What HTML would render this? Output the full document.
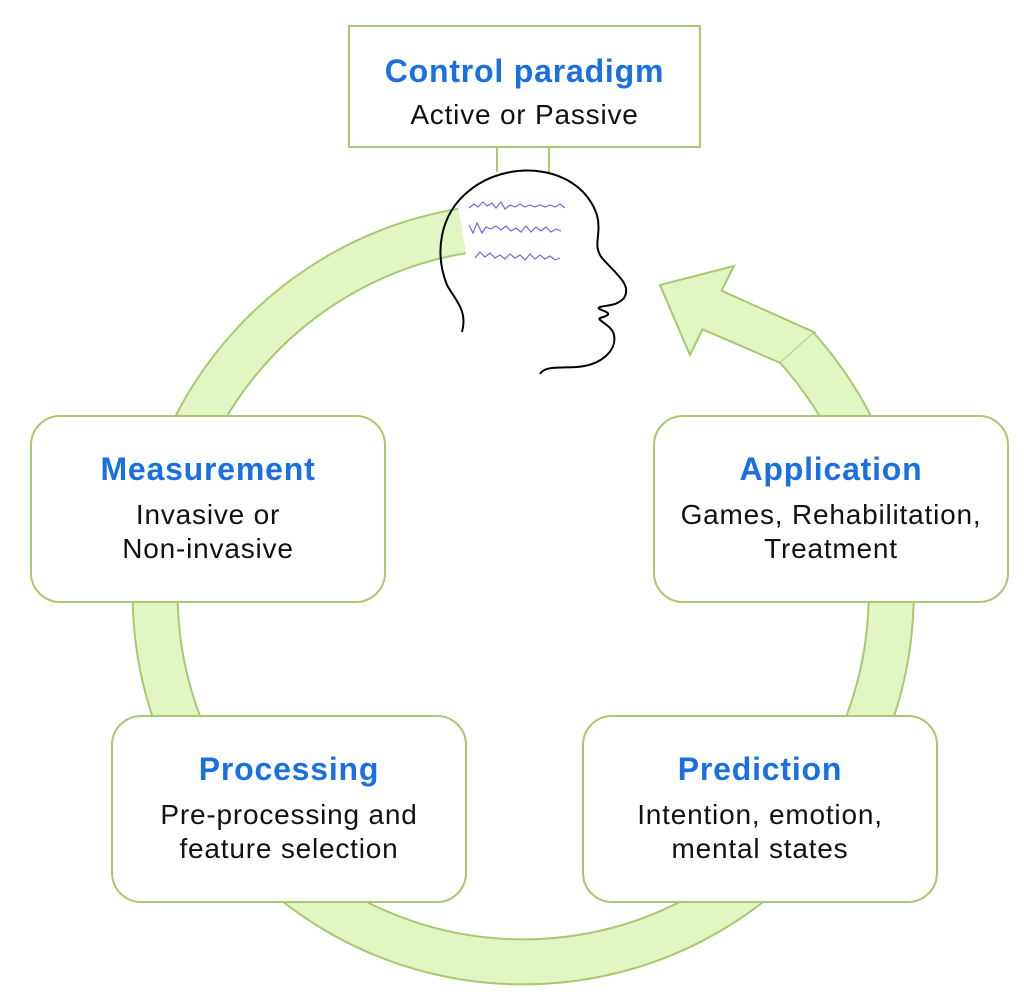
<!DOCTYPE html>
<html><head><style>
body{margin:0;width:1024px;height:1006px;background:#fff;position:relative;font-family:"Liberation Sans",sans-serif;overflow:hidden}
.b{position:absolute;box-sizing:border-box;border:2px solid #a9c872;background:#fff;border-radius:30px;text-align:center}
.t{color:#1a6fe3;font-weight:bold;font-size:32px;line-height:38px;letter-spacing:0.8px}
.s{color:#111;font-size:28px;line-height:34px;letter-spacing:0.8px}
</style></head><body>
<svg width="1024" height="1006" style="position:absolute;left:0;top:0">
<path d="M462,231 A368,368 0 1 0 797,348" fill="none" stroke="#a9c872" stroke-width="47"/>
<polygon points="660,285 734,266 721.5,290.7 814.6,332.4 780.4,363 702.5,329.3 690,355" fill="#e2f6c4" stroke="#a9c872" stroke-width="2" stroke-linejoin="miter"/>
<path d="M462,231 A368,368 0 1 0 797,348" fill="none" stroke="#e2f6c4" stroke-width="43"/>
<path d="M497,147 V172 M549,147 V172" stroke="#a9c872" stroke-width="2"/>
<path d="M462,332 C468,310 455,300 447,285 C435,255 438,215 470,190 C510,158 580,165 597,215 C602,235 592,245 602,258 C617,275 632,285 624,298 C617,306 607,305 600,307 C592,310 622,312 600,318 C596,320 612,325 614,335 C617,350 602,365 577,367 C557,368 545,366 540,374" fill="none" stroke="#000" stroke-width="2"/>
<g fill="none" stroke="#6a6ae8" stroke-width="1.2">
<path d="M469,208 l5,-4 4,3 5,-5 4,4 5,-3 4,5 5,-6 4,7 5,-4 5,2 5,-3 5,3 5,-2 5,2 5,-2 5,2 5,-2 5,2 5,-3 5,4"/>
<path d="M469,225 l4,8 4,-10 5,10 4,-6 5,2 5,-3 5,4 5,-4 5,5 5,-3 5,4 5,-6 5,6 5,-5 5,4 5,-4 5,5 5,-3 5,2"/>
<path d="M475,258 l5,-6 5,5 5,-4 5,5 5,-3 5,4 5,-5 5,4 5,-3 5,5 5,-6 5,5 5,-4 5,4 5,-3 5,4 5,-2"/>
</g>
</svg>
<div class="b" style="left:348px;top:25px;width:353px;height:123px;border-radius:0;padding-top:25px"><div class="t">Control paradigm</div><div class="s" style="margin-top:8px">Active or Passive</div></div>
<div class="b" style="left:30px;top:415px;width:356px;height:188px;padding-top:33px"><div class="t">Measurement</div><div class="s" style="margin-top:10px">Invasive or<br>Non-invasive</div></div>
<div class="b" style="left:653px;top:415px;width:356px;height:188px;padding-top:33px"><div class="t">Application</div><div class="s" style="margin-top:10px">Games, Rehabilitation,<br>Treatment</div></div>
<div class="b" style="left:111px;top:715px;width:356px;height:188px;padding-top:33px"><div class="t">Processing</div><div class="s" style="margin-top:10px">Pre-processing and<br>feature selection</div></div>
<div class="b" style="left:582px;top:715px;width:356px;height:188px;padding-top:33px"><div class="t">Prediction</div><div class="s" style="margin-top:10px">Intention, emotion,<br>mental states</div></div>
</body></html>
